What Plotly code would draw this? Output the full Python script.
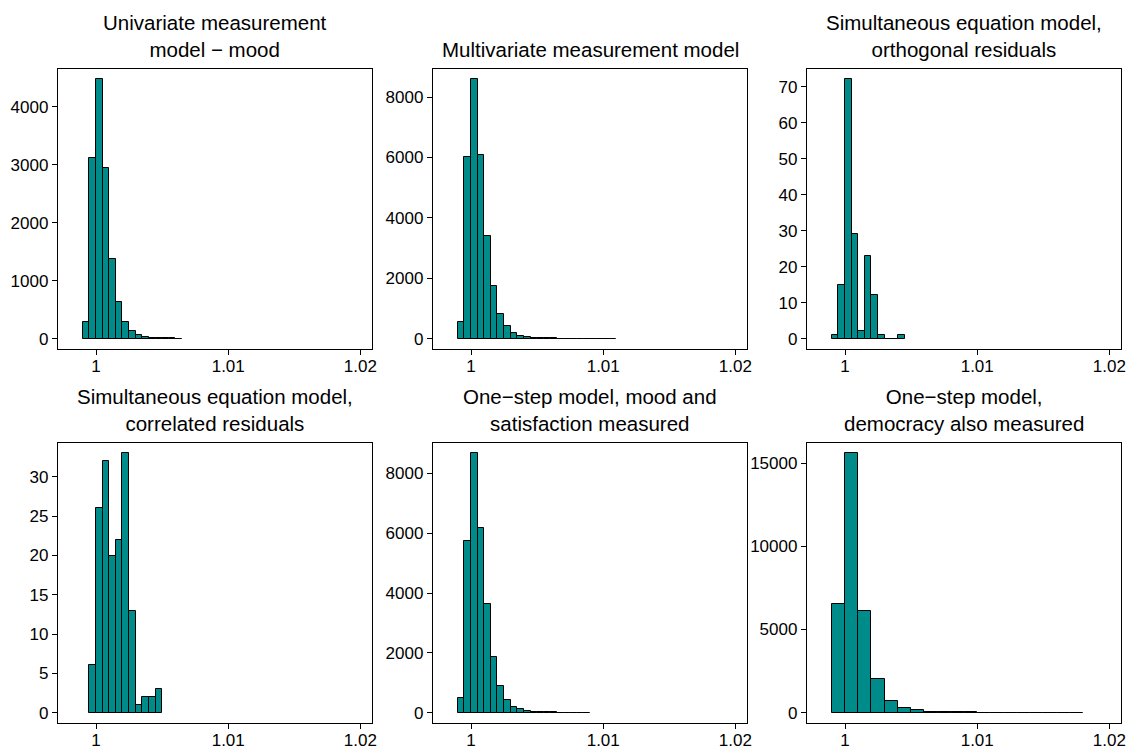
import plotly.graph_objects as go

# ---- data ----
titles = [
    "Univariate measurement<br>model \u2212 mood",
    "Multivariate measurement model",
    "Simultaneous equation model,<br>orthogonal residuals",
    "Simultaneous equation model,<br>correlated residuals",
    "One\u2212step model, mood and<br>satisfaction measured",
    "One\u2212step model,<br>democracy also measured",
]
bin_start = [0.999, 0.999, 0.999, 0.9995, 0.999, 0.999]
bin_width = [0.0005, 0.0005, 0.0005, 0.0005, 0.0005, 0.001]
counts_univariate = [290, 3120, 4470, 2950, 1370, 640, 295, 125, 57, 28, 14, 8, 5, 3, 2]
counts_multivariate = [560, 6010, 8590, 6100, 3390, 1750, 830, 410, 190, 90, 45, 22,
                       12, 8, 5, 4, 3, 2, 2, 1, 1, 1, 1, 1]
counts_sem_orth = [1, 15, 72, 29, 2, 23, 12, 1, 0, 0, 1]
counts_sem_corr = [6, 26, 32, 20, 22, 33, 13, 1, 2, 2, 3]
counts_onestep_mood = [480, 5750, 8670, 6190, 3620, 1860, 900, 410, 190, 110, 50, 22,
                       12, 8, 5, 3, 2, 2, 1, 1]
counts_onestep_demo = [6530, 15600, 6120, 2010, 720, 300, 140, 60, 30, 15, 10, 7,
                       5, 4, 3, 2, 2, 1, 1]
all_counts = [counts_univariate, counts_multivariate, counts_sem_orth,
              counts_sem_corr, counts_onestep_mood, counts_onestep_demo]
y_ticks = [
    [0, 1000, 2000, 3000, 4000],
    [0, 2000, 4000, 6000, 8000],
    [0, 10, 20, 30, 40, 50, 60, 70],
    [0, 5, 10, 15, 20, 25, 30],
    [0, 2000, 4000, 6000, 8000],
    [0, 5000, 10000, 15000],
]
x_ticks = [1, 1.01, 1.02]
x_ticklabels = ["1", "1.01", "1.02"]
x_lim = [0.998, 1.02]

# ---- layout geometry (pixels) ----
W, H = 1128, 749
col_px = [(58, 372), (433, 747), (807, 1121)]
row_px = [(69, 349), (443, 723)]

FILL = "#008B8B"
FONT = "Liberation Sans, Arial, sans-serif"

fig = go.Figure()
layout = dict(
    width=W, height=H, margin=dict(l=0, r=0, t=0, b=0, autoexpand=False),
    paper_bgcolor="white", plot_bgcolor="white", showlegend=False,
    font=dict(family=FONT, color="black"), bargap=0,
)
annotations = []

xr = [x_lim[0] - 0.04 * (x_lim[1] - x_lim[0]), x_lim[1] + 0.04 * (x_lim[1] - x_lim[0])]

for i in range(6):
    r, c = divmod(i, 3)
    counts = all_counts[i]
    centers = [bin_start[i] + (k + 0.5) * bin_width[i] for k in range(len(counts))]
    ax = "" if i == 0 else str(i + 1)
    fig.add_trace(go.Bar(
        x=centers, y=counts, width=[bin_width[i]] * len(counts),
        marker=dict(color=FILL, line=dict(color="black", width=1)),
        xaxis="x" + ax, yaxis="y" + ax, hoverinfo="x+y",
    ))
    x0, x1 = col_px[c]
    y0, y1 = row_px[r]
    xd = [x0 / W, x1 / W]
    yd = [1 - y1 / H, 1 - y0 / H]
    ymax = max(counts)
    yr = [-0.04 * ymax, 1.04 * ymax]
    layout["xaxis" + ax] = dict(
        domain=xd, range=xr, anchor="y" + ax, tickvals=x_ticks, ticktext=x_ticklabels,
        ticks="outside", ticklen=5, tickwidth=1, tickcolor="black",
        showline=True, linecolor="black", linewidth=1.3, mirror=True,
        showgrid=False, zeroline=False, tickfont=dict(size=17, family=FONT),
        fixedrange=True, automargin=False, ticklabelstandoff=-4,
    )
    layout["yaxis" + ax] = dict(
        domain=yd, range=yr, anchor="x" + ax, tickvals=y_ticks[i],
        ticktext=[str(v) for v in y_ticks[i]],
        ticks="outside", ticklen=5, tickwidth=1, tickcolor="black",
        showline=True, linecolor="black", linewidth=1.3, mirror=True,
        showgrid=False, zeroline=False, tickfont=dict(size=17, family=FONT),
        fixedrange=True, automargin=False,
    )
    annotations.append(dict(
        text=titles[i], x=(xd[0] + xd[1]) / 2, y=yd[1], xref="paper", yref="paper",
        xanchor="center", yanchor="bottom", yshift=6, showarrow=False,
        font=dict(size=20.5, family=FONT, color="black"),
    ))

layout["annotations"] = annotations
fig.update_layout(**layout)
fig.write_html(
    "out.html",
    config={"displayModeBar": False},
    post_script="document.body.style.margin='0';document.body.style.padding='0';"
                "document.body.style.overflow='hidden';",
)
